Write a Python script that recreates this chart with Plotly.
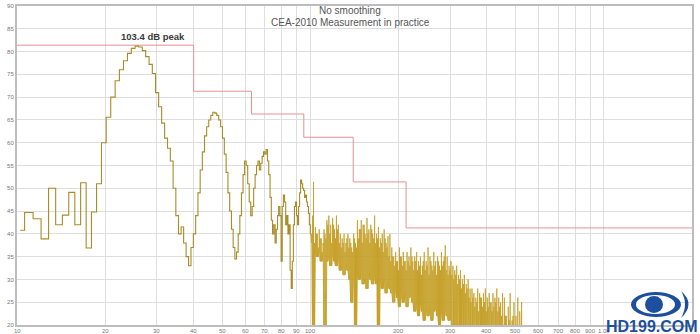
import numpy as np
import plotly.graph_objects as go

# ---------------- data ----------------
BIN_HZ = 48000 / 65536          # FFT bin width of the measurement
FIRST_BIN = 14                  # first bin shown (~10.25 Hz)

# Level per FFT bin (dB), bins 14 .. 137 (~10 Hz .. ~100 Hz)
LF_LEVELS = [
    40.8, 44.7, 43.3, 38.9, 50.0, 42.0, 44.1, 49.1, 42.0, 51.2,
    36.9, 44.8, 51.0, 60.0, 65.6, 70.0, 73.6, 76.0, 78.0, 79.6,
    80.7, 81.2, 81.0, 80.2, 78.9, 77.2, 75.2, 71.0, 67.9, 64.3,
    61.0, 58.8, 56.0, 50.0, 44.0, 40.0, 41.5, 38.0, 35.0, 33.0,
    37.0, 40.0, 44.0, 49.0, 54.0, 58.0, 61.5, 63.5, 65.0, 66.0,
    66.7, 66.5, 66.0, 65.0, 63.5, 61.0, 57.5, 53.5, 49.0, 45.0,
    41.0, 37.0, 34.5, 36.0, 40.0, 44.0, 49.0, 53.0, 56.0, 55.0,
    51.0, 47.0, 44.0, 46.0, 50.0, 53.0, 55.0, 56.0, 54.0, 55.5,
    57.0, 58.0, 57.5, 58.5, 56.0, 53.0, 48.0, 43.0, 40.0, 42.0,
    38.0, 41.0, 44.0, 46.0, 44.0, 34.0, 46.0, 48.5, 47.0, 42.0,
    44.0, 40.0, 42.0, 32.0, 28.0, 34.0, 42.0, 46.0, 47.0, 44.0,
    42.0, 46.0, 49.0, 51.8, 51.0, 50.0, 49.5, 48.0, 48.5, 47.0,
    46.0, 44.5, 42.0, 40.0,
]

# Noisy region above 100 Hz (dB), spikes log-spaced 101..525 Hz
NOISE_F_START, NOISE_F_END = 101.0, 525.0
NOISE_TOPS = [
    40, 51.4,
    41.5, 40, 41, 39, 38,
    40, 43, 44, 42, 43.5, 41, 44, 42, 40,
    39, 40, 38, 40, 39, 37, 40, 38, 43,
    41, 43, 42, 40, 43.5, 41, 42, 40, 44,
    40, 41.5, 39, 40, 41, 38, 39.5, 40,
    37, 35, 36, 34, 37, 35, 36, 34, 36, 35, 37, 34, 35,
    36, 34, 35, 33, 36, 34, 37, 35, 33, 36, 34, 35, 33, 36, 34, 37.5, 35, 33,
    34, 33, 32, 33, 31, 32, 30, 31, 29, 30, 28,
    28, 27, 26, 28, 27, 26, 27, 28, 26, 27, 25, 27, 26, 28, 26, 25, 27,
    26, 22, 24, 27, 21, 25, 22, 26, 23, 25,
]
# secondary spikes, between the main ones
NOISE_TOPS_B = [
    44,
    38, 40, 37, 39, 36,
    41, 39, 42, 40, 38, 42, 39, 41, 38,
    37, 38, 36, 39, 37, 38, 36, 39, 37,
    39, 41, 38, 42, 39, 40, 38, 41, 39,
    38, 39, 37, 38, 36, 39, 37, 35,
    34, 35, 33, 34, 32, 35, 33, 34, 32, 34, 33, 35, 32,
    34, 32, 33, 31, 34, 32, 33, 31, 34, 32, 33, 31, 34, 32, 33, 35, 32, 31,
    32, 31, 30, 31, 29, 30, 28, 29, 27, 28, 26,
    25, 26, 24, 25, 23, 26, 24, 25, 23, 24, 25, 23, 24, 25, 23, 24, 22,
    18, 22, 17, 21, 18, 22, 17, 20, 18, 19,
]
NOISE_TROUGHS = [
    38, 15,
    36, 35, 37, 34, 36,
    15, 34, 35, 33, 36, 34, 33, 35, 32,
    33, 31, 34, 32, 30, 25, 32, 15, 31,
    30, 32, 29, 31, 28, 33, 30, 29, 31,
    29, 15, 30, 28, 31, 27, 30, 28,
    27, 25, 28, 26, 24, 27, 25, 28, 24, 26, 27, 25, 23,
    24, 22, 25, 23, 21, 24, 22, 25, 21, 23, 24, 22, 20, 23, 21, 24, 22, 21,
    22, 20, 18, 21, 19, 17, 20, 18, 16, 19, 17,
    15, 14, 16, 13, 15, 14, 16, 13, 15, 14, 16, 13, 15, 14, 16, 13, 15,
    12, 12, 12, 12, 12, 12, 12, 12, 12, 12,
]

# CEA-2010 limit steps
LIMIT_F = [10, 40, 63, 95, 140, 212, 2000]
LIMIT_DB = [81.4, 71.3, 66.3, 61.2, 51.4, 41.3, 41.3]

X_TICKS = [10, 20, 30, 40, 50, 60, 70, 80, 90, 100,
           200, 300, 400, 500, 600, 700, 800, 900, 1000]
X_TICKTEXT = ["10", "20", "30", "40", "50", "60", "70", "80", "90", "100",
              "200", "300", "400", "500", "600", "700", "800", "900", "1.0k"]

PEAK_LABEL = "103.4 dB peak"
TITLE1 = "No smoothing"
TITLE2 = "CEA-2010 Measurement in practice"

# ---------------- build ----------------
lf_f = [(FIRST_BIN + i) * BIN_HZ for i in range(len(LF_LEVELS))]

n = len(NOISE_TOPS)
main_f = np.geomspace(NOISE_F_START, NOISE_F_END, n)
mid_f = np.sqrt(main_f[:-1] * main_f[1:])
nf, nv = [], []
for i in range(n):
    nf += [main_f[i]] * 3
    nv += [NOISE_TROUGHS[i], NOISE_TOPS[i], NOISE_TROUGHS[i]]
    if i < n - 1:
        low = min(NOISE_TROUGHS[i], NOISE_TROUGHS[i + 1])
        nf += [mid_f[i]] * 3
        nv += [low, NOISE_TOPS_B[i], low]

LF_COLOR = "#a88c28"
NOISE_COLOR = "#c49e24"

fig = go.Figure()
fig.add_trace(go.Scatter(x=LIMIT_F, y=LIMIT_DB, mode="lines",
                         line=dict(color="#e39292", width=1, shape="hv"),
                         hoverinfo="skip"))
fig.add_trace(go.Scatter(x=lf_f, y=LF_LEVELS, mode="lines",
                         line=dict(color=LF_COLOR, width=1.1, shape="hvh")))
fig.add_trace(go.Scatter(x=[lf_f[-1]] + nf, y=[LF_LEVELS[-1]] + nv, mode="lines",
                         line=dict(color=NOISE_COLOR, width=0.8)))

L, R, T, B = 17, 8, 6, 9
W, H = 700, 334
pw, ph = W - L - R, H - T - B


def px(xp):
    return (xp - L) / pw


def py(yp):
    return (H - B - yp) / ph


FONT = "Liberation Sans, Arial"

for v, t in zip(X_TICKS, X_TICKTEXT):
    fig.add_annotation(x=np.log10(v), y=0, xref="x", yref="paper", text=t,
                       showarrow=False, xanchor="center", yanchor="top", yshift=-1,
                       font=dict(family=FONT, size=6, color="#777"))

peak_i = int(np.argmax(LF_LEVELS))
fig.add_annotation(x=np.log10(lf_f[peak_i]) + 0.055, y=LF_LEVELS[peak_i] + 0.4,
                   xref="x", yref="y", text="<b>" + PEAK_LABEL + "</b>", showarrow=False,
                   yanchor="bottom", xanchor="center",
                   font=dict(family=FONT, size=9.5, color="#3a3a3a"))

fig.add_annotation(x=px(350), y=py(11), xref="paper", yref="paper",
                   text=TITLE1, showarrow=False, xanchor="center", yanchor="middle",
                   font=dict(family=FONT, size=10, color="#555"))
fig.add_annotation(x=px(350), y=py(22), xref="paper", yref="paper",
                   text=TITLE2, showarrow=False, xanchor="center", yanchor="middle",
                   font=dict(family=FONT, size=10, color="#555"))

# watermark
blue = "#1d4f9e"
fig.add_annotation(x=px(652), y=py(326.5), xref="paper", yref="paper",
                   text="<b>HD199.COM</b>", showarrow=False, xanchor="center", yanchor="middle",
                   font=dict(family=FONT, size=16, color=blue))
fig.add_shape(type="circle", xref="paper", yref="paper",
              x0=px(631), x1=px(681), y0=py(317), y1=py(292),
              fillcolor=blue, line=dict(width=0), layer="above")
fig.add_shape(type="circle", xref="paper", yref="paper",
              x0=px(636), x1=px(675), y0=py(314), y1=py(295),
              fillcolor="white", line=dict(width=0), layer="above")
fig.add_shape(type="circle", xref="paper", yref="paper",
              x0=px(645), x1=px(663), y0=py(313), y1=py(296),
              fillcolor=blue, line=dict(width=0), layer="above")
fig.add_shape(type="path", xref="paper", yref="paper",
              path=f"M {px(681)} {py(291)} Q {px(696)} {py(304)} {px(681)} {py(318)} "
                   f"Q {px(689)} {py(304)} {px(681)} {py(291)} Z",
              fillcolor=blue, line=dict(width=0), layer="above")

fig.update_xaxes(type="log", range=[1, np.log10(2000)],
                 tickvals=X_TICKS, showticklabels=False,
                 showgrid=True, gridcolor="#dedede", gridwidth=1,
                 showline=True, linecolor="#bdbdbd", linewidth=2, mirror=True,
                 ticks="", zeroline=False)
fig.update_yaxes(range=[20, 90], dtick=5, tick0=20,
                 showgrid=True, gridcolor="#dedede", gridwidth=1,
                 showline=True, linecolor="#bdbdbd", linewidth=2, mirror=True,
                 ticks="", tickfont=dict(family=FONT, size=6, color="#777"),
                 zeroline=False)

fig.update_layout(width=W, height=H, margin=dict(l=L, r=R, t=T, b=B, autoexpand=False),
                  paper_bgcolor="white", plot_bgcolor="white", showlegend=False)

fig.write_html("out.html")
